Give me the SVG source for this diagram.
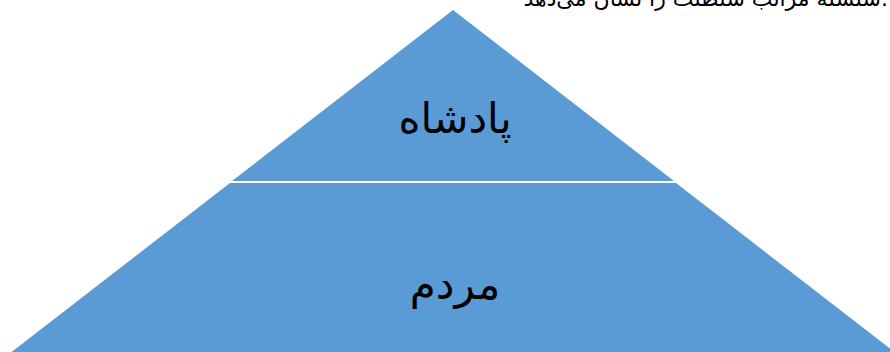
<svg xmlns="http://www.w3.org/2000/svg" width="890" height="352" viewBox="0 0 890 352">
<style>
.tri{fill:#5B9BD5;}
.lbl{font-family:"DejaVu Sans","Noto Sans",serif;font-size:42px;fill:#000;text-anchor:middle;}
.cap{font-family:"DejaVu Sans","Noto Sans",serif;font-size:22px;fill:#000;text-anchor:end;}
</style>
<rect width="890" height="352" fill="#fff"/>
<text class="cap" x="888" y="6">سلسله مراتب سلطنت را نشان می‌دهد.</text>
<g id="king">
<polygon class="tri" points="453,10 674,181 232,181"/>
<text class="lbl" x="455" y="133">پادشاه</text>
</g>
<g id="people">
<polygon class="tri" points="230,183 676,183 897,354 9,354"/>
<text class="lbl" x="455" y="299">مردم</text>
</g>
<g id="connectors"></g>
</svg>
